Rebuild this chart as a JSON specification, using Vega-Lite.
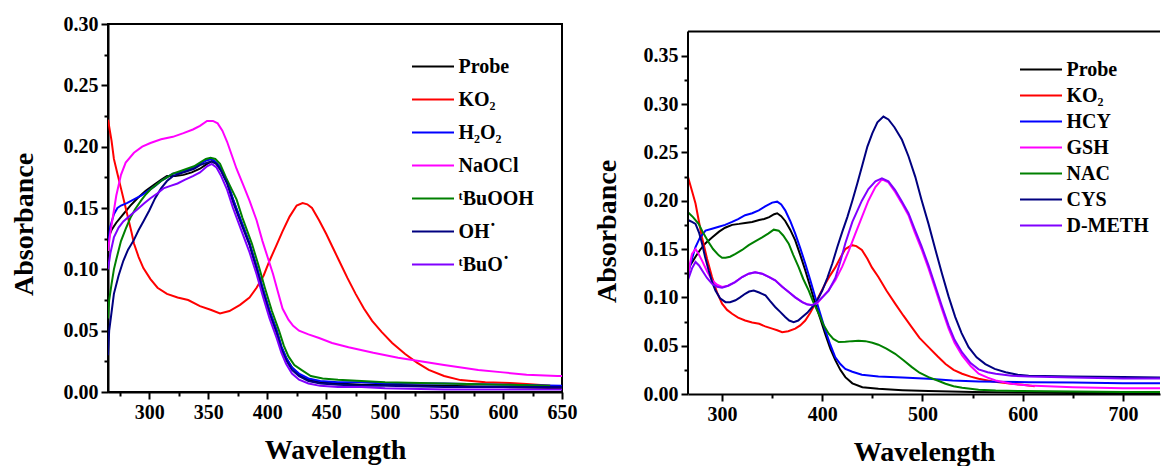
{
  "$schema": "https://vega.github.io/schema/vega-lite/v6.json",
  "background": "white",
  "padding": {"left": 9, "top": 13, "right": 0, "bottom": 0},
  "spacing": 15,
  "config": {
    "font": "Liberation Serif",
    "view": {"stroke": "black", "strokeWidth": 2},
    "axis": {
      "grid": false,
      "domainColor": "black", "domainWidth": 2,
      "tickColor": "black", "tickWidth": 2, "tickSize": 7,
      "labelFont": "Liberation Serif", "labelFontWeight": "bold", "labelFontSize": 20, "labelColor": "black",
      "labelPadding": 3, "labelFlush": false, "labelOverlap": false,
      "titleFont": "Liberation Serif", "titleFontWeight": "bold", "titleFontSize": 28, "titleColor": "black"
    },
    "legend": {
      "orient": "none", "title": null,
      "symbolType": "M-2,0H2", "symbolStrokeWidth": 2, "symbolSize": 441, "symbolOffset": 10.5,
      "symbolFillColor": "transparent",
      "labelFont": "Liberation Serif", "labelFontWeight": "bold", "labelFontSize": 20, "labelColor": "black",
      "labelOffset": 14
    }
  },
  "datasets": {
    "left": [
      {"s":"Probe","w":265,"a":0.125},{"s":"Probe","w":268,"a":0.132},{"s":"Probe","w":272,"a":0.138},{"s":"Probe","w":278,"a":0.145},{"s":"Probe","w":284,"a":0.152},{"s":"Probe","w":290,"a":0.158},{"s":"Probe","w":297,"a":0.164},{"s":"Probe","w":304,"a":0.169},{"s":"Probe","w":310,"a":0.173},{"s":"Probe","w":315,"a":0.176},{"s":"Probe","w":322,"a":0.176},{"s":"Probe","w":329,"a":0.177},{"s":"Probe","w":336,"a":0.179},{"s":"Probe","w":343,"a":0.182},{"s":"Probe","w":349,"a":0.186},{"s":"Probe","w":353,"a":0.188},{"s":"Probe","w":357,"a":0.186},{"s":"Probe","w":361,"a":0.181},{"s":"Probe","w":366,"a":0.171},{"s":"Probe","w":371,"a":0.157},{"s":"Probe","w":378,"a":0.139},{"s":"Probe","w":385,"a":0.121},{"s":"Probe","w":391,"a":0.102},{"s":"Probe","w":396,"a":0.085},{"s":"Probe","w":402,"a":0.066},{"s":"Probe","w":408,"a":0.05},{"s":"Probe","w":412,"a":0.037},{"s":"Probe","w":416,"a":0.028},{"s":"Probe","w":421,"a":0.02},{"s":"Probe","w":427,"a":0.014},{"s":"Probe","w":435,"a":0.01},{"s":"Probe","w":445,"a":0.008},{"s":"Probe","w":460,"a":0.007},{"s":"Probe","w":480,"a":0.006},{"s":"Probe","w":500,"a":0.006},{"s":"Probe","w":550,"a":0.005},{"s":"Probe","w":600,"a":0.004},{"s":"Probe","w":650,"a":0.003},

      {"s":"KO2","w":265,"a":0.222},{"s":"KO2","w":268,"a":0.205},{"s":"KO2","w":270,"a":0.19},{"s":"KO2","w":273,"a":0.178},{"s":"KO2","w":276,"a":0.166},{"s":"KO2","w":279,"a":0.154},{"s":"KO2","w":282,"a":0.142},{"s":"KO2","w":285,"a":0.13},{"s":"KO2","w":287,"a":0.121},{"s":"KO2","w":291,"a":0.11},{"s":"KO2","w":295,"a":0.101},{"s":"KO2","w":301,"a":0.092},{"s":"KO2","w":307,"a":0.085},{"s":"KO2","w":315,"a":0.08},{"s":"KO2","w":324,"a":0.077},{"s":"KO2","w":333,"a":0.075},{"s":"KO2","w":343,"a":0.07},{"s":"KO2","w":352,"a":0.067},{"s":"KO2","w":360,"a":0.064},{"s":"KO2","w":368,"a":0.066},{"s":"KO2","w":377,"a":0.071},{"s":"KO2","w":385,"a":0.077},{"s":"KO2","w":391,"a":0.085},{"s":"KO2","w":397,"a":0.095},{"s":"KO2","w":402,"a":0.107},{"s":"KO2","w":408,"a":0.12},{"s":"KO2","w":413,"a":0.131},{"s":"KO2","w":419,"a":0.143},{"s":"KO2","w":425,"a":0.152},{"s":"KO2","w":430,"a":0.154},{"s":"KO2","w":434,"a":0.153},{"s":"KO2","w":438,"a":0.15},{"s":"KO2","w":444,"a":0.14},{"s":"KO2","w":450,"a":0.129},{"s":"KO2","w":456,"a":0.117},{"s":"KO2","w":461,"a":0.107},{"s":"KO2","w":468,"a":0.093},{"s":"KO2","w":475,"a":0.08},{"s":"KO2","w":482,"a":0.068},{"s":"KO2","w":489,"a":0.058},{"s":"KO2","w":497,"a":0.049},{"s":"KO2","w":506,"a":0.04},{"s":"KO2","w":517,"a":0.031},{"s":"KO2","w":527,"a":0.024},{"s":"KO2","w":537,"a":0.018},{"s":"KO2","w":550,"a":0.013},{"s":"KO2","w":564,"a":0.0097},{"s":"KO2","w":585,"a":0.008},{"s":"KO2","w":606,"a":0.0073},{"s":"KO2","w":620,"a":0.0065},{"s":"KO2","w":632,"a":0.0057},{"s":"KO2","w":640,"a":0.005},

      {"s":"H2O2","w":265,"a":0.118},{"s":"H2O2","w":267,"a":0.135},{"s":"H2O2","w":270,"a":0.145},{"s":"H2O2","w":273,"a":0.15},{"s":"H2O2","w":276,"a":0.152},{"s":"H2O2","w":281,"a":0.154},{"s":"H2O2","w":287,"a":0.157},{"s":"H2O2","w":293,"a":0.16},{"s":"H2O2","w":299,"a":0.164},{"s":"H2O2","w":305,"a":0.168},{"s":"H2O2","w":310,"a":0.172},{"s":"H2O2","w":315,"a":0.175},{"s":"H2O2","w":320,"a":0.178},{"s":"H2O2","w":326,"a":0.179},{"s":"H2O2","w":332,"a":0.181},{"s":"H2O2","w":338,"a":0.183},{"s":"H2O2","w":343,"a":0.186},{"s":"H2O2","w":349,"a":0.189},{"s":"H2O2","w":353,"a":0.19},{"s":"H2O2","w":357,"a":0.187},{"s":"H2O2","w":361,"a":0.182},{"s":"H2O2","w":366,"a":0.172},{"s":"H2O2","w":371,"a":0.157},{"s":"H2O2","w":378,"a":0.139},{"s":"H2O2","w":385,"a":0.121},{"s":"H2O2","w":391,"a":0.102},{"s":"H2O2","w":396,"a":0.085},{"s":"H2O2","w":402,"a":0.066},{"s":"H2O2","w":408,"a":0.05},{"s":"H2O2","w":412,"a":0.037},{"s":"H2O2","w":416,"a":0.028},{"s":"H2O2","w":421,"a":0.02},{"s":"H2O2","w":427,"a":0.015},{"s":"H2O2","w":435,"a":0.011},{"s":"H2O2","w":445,"a":0.009},{"s":"H2O2","w":460,"a":0.008},{"s":"H2O2","w":480,"a":0.008},{"s":"H2O2","w":500,"a":0.007},{"s":"H2O2","w":550,"a":0.007},{"s":"H2O2","w":600,"a":0.006},{"s":"H2O2","w":650,"a":0.005},

      {"s":"NaOCl","w":265,"a":0.115},{"s":"NaOCl","w":267,"a":0.13},{"s":"NaOCl","w":269,"a":0.142},{"s":"NaOCl","w":272,"a":0.16},{"s":"NaOCl","w":276,"a":0.177},{"s":"NaOCl","w":280,"a":0.187},{"s":"NaOCl","w":287,"a":0.195},{"s":"NaOCl","w":294,"a":0.2},{"s":"NaOCl","w":301,"a":0.203},{"s":"NaOCl","w":310,"a":0.206},{"s":"NaOCl","w":320,"a":0.208},{"s":"NaOCl","w":329,"a":0.211},{"s":"NaOCl","w":337,"a":0.214},{"s":"NaOCl","w":343,"a":0.217},{"s":"NaOCl","w":349,"a":0.221},{"s":"NaOCl","w":354,"a":0.221},{"s":"NaOCl","w":358,"a":0.219},{"s":"NaOCl","w":362,"a":0.213},{"s":"NaOCl","w":366,"a":0.204},{"s":"NaOCl","w":370,"a":0.193},{"s":"NaOCl","w":374,"a":0.182},{"s":"NaOCl","w":380,"a":0.168},{"s":"NaOCl","w":385,"a":0.156},{"s":"NaOCl","w":391,"a":0.14},{"s":"NaOCl","w":396,"a":0.123},{"s":"NaOCl","w":401,"a":0.108},{"s":"NaOCl","w":405,"a":0.096},{"s":"NaOCl","w":409,"a":0.082},{"s":"NaOCl","w":413,"a":0.068},{"s":"NaOCl","w":418,"a":0.059},{"s":"NaOCl","w":422,"a":0.054},{"s":"NaOCl","w":427,"a":0.05},{"s":"NaOCl","w":435,"a":0.047},{"s":"NaOCl","w":444,"a":0.044},{"s":"NaOCl","w":455,"a":0.04},{"s":"NaOCl","w":469,"a":0.0365},{"s":"NaOCl","w":490,"a":0.032},{"s":"NaOCl","w":511,"a":0.028},{"s":"NaOCl","w":530,"a":0.025},{"s":"NaOCl","w":550,"a":0.022},{"s":"NaOCl","w":579,"a":0.018},{"s":"NaOCl","w":600,"a":0.016},{"s":"NaOCl","w":620,"a":0.014},{"s":"NaOCl","w":646,"a":0.013},{"s":"NaOCl","w":650,"a":0.013},

      {"s":"tBuOOH","w":265,"a":0.06},{"s":"tBuOOH","w":266,"a":0.075},{"s":"tBuOOH","w":268,"a":0.088},{"s":"tBuOOH","w":270,"a":0.1},{"s":"tBuOOH","w":272,"a":0.108},{"s":"tBuOOH","w":276,"a":0.123},{"s":"tBuOOH","w":280,"a":0.133},{"s":"tBuOOH","w":284,"a":0.142},{"s":"tBuOOH","w":288,"a":0.149},{"s":"tBuOOH","w":293,"a":0.156},{"s":"tBuOOH","w":297,"a":0.161},{"s":"tBuOOH","w":301,"a":0.165},{"s":"tBuOOH","w":306,"a":0.169},{"s":"tBuOOH","w":310,"a":0.172},{"s":"tBuOOH","w":315,"a":0.175},{"s":"tBuOOH","w":320,"a":0.178},{"s":"tBuOOH","w":326,"a":0.18},{"s":"tBuOOH","w":332,"a":0.182},{"s":"tBuOOH","w":338,"a":0.184},{"s":"tBuOOH","w":343,"a":0.187},{"s":"tBuOOH","w":348,"a":0.19},{"s":"tBuOOH","w":352,"a":0.191},{"s":"tBuOOH","w":356,"a":0.19},{"s":"tBuOOH","w":360,"a":0.186},{"s":"tBuOOH","w":365,"a":0.175},{"s":"tBuOOH","w":370,"a":0.165},{"s":"tBuOOH","w":374,"a":0.157},{"s":"tBuOOH","w":379,"a":0.142},{"s":"tBuOOH","w":387,"a":0.121},{"s":"tBuOOH","w":393,"a":0.102},{"s":"tBuOOH","w":398,"a":0.085},{"s":"tBuOOH","w":404,"a":0.066},{"s":"tBuOOH","w":410,"a":0.05},{"s":"tBuOOH","w":414,"a":0.038},{"s":"tBuOOH","w":418,"a":0.029},{"s":"tBuOOH","w":423,"a":0.022},{"s":"tBuOOH","w":429,"a":0.018},{"s":"tBuOOH","w":437,"a":0.013},{"s":"tBuOOH","w":447,"a":0.011},{"s":"tBuOOH","w":460,"a":0.01},{"s":"tBuOOH","w":480,"a":0.009},{"s":"tBuOOH","w":500,"a":0.008},{"s":"tBuOOH","w":550,"a":0.007},{"s":"tBuOOH","w":600,"a":0.006},{"s":"tBuOOH","w":640,"a":0.005},

      {"s":"OH","w":265,"a":0.03},{"s":"OH","w":266,"a":0.05},{"s":"OH","w":268,"a":0.065},{"s":"OH","w":270,"a":0.08},{"s":"OH","w":274,"a":0.095},{"s":"OH","w":278,"a":0.107},{"s":"OH","w":282,"a":0.116},{"s":"OH","w":287,"a":0.124},{"s":"OH","w":291,"a":0.132},{"s":"OH","w":295,"a":0.139},{"s":"OH","w":300,"a":0.148},{"s":"OH","w":305,"a":0.158},{"s":"OH","w":310,"a":0.166},{"s":"OH","w":315,"a":0.172},{"s":"OH","w":320,"a":0.176},{"s":"OH","w":326,"a":0.178},{"s":"OH","w":332,"a":0.18},{"s":"OH","w":338,"a":0.182},{"s":"OH","w":343,"a":0.185},{"s":"OH","w":349,"a":0.187},{"s":"OH","w":353,"a":0.188},{"s":"OH","w":357,"a":0.186},{"s":"OH","w":361,"a":0.18},{"s":"OH","w":366,"a":0.17},{"s":"OH","w":371,"a":0.155},{"s":"OH","w":378,"a":0.137},{"s":"OH","w":385,"a":0.12},{"s":"OH","w":391,"a":0.1},{"s":"OH","w":396,"a":0.083},{"s":"OH","w":402,"a":0.064},{"s":"OH","w":408,"a":0.048},{"s":"OH","w":412,"a":0.035},{"s":"OH","w":416,"a":0.026},{"s":"OH","w":421,"a":0.018},{"s":"OH","w":427,"a":0.013},{"s":"OH","w":435,"a":0.009},{"s":"OH","w":445,"a":0.007},{"s":"OH","w":460,"a":0.006},{"s":"OH","w":480,"a":0.005},{"s":"OH","w":500,"a":0.005},{"s":"OH","w":550,"a":0.004},{"s":"OH","w":600,"a":0.004},{"s":"OH","w":650,"a":0.004},

      {"s":"tBuO","w":265,"a":0.1},{"s":"tBuO","w":267,"a":0.113},{"s":"tBuO","w":270,"a":0.126},{"s":"tBuO","w":274,"a":0.134},{"s":"tBuO","w":278,"a":0.139},{"s":"tBuO","w":284,"a":0.144},{"s":"tBuO","w":290,"a":0.149},{"s":"tBuO","w":296,"a":0.154},{"s":"tBuO","w":301,"a":0.158},{"s":"tBuO","w":307,"a":0.162},{"s":"tBuO","w":312,"a":0.166},{"s":"tBuO","w":318,"a":0.168},{"s":"tBuO","w":324,"a":0.17},{"s":"tBuO","w":330,"a":0.173},{"s":"tBuO","w":337,"a":0.176},{"s":"tBuO","w":343,"a":0.179},{"s":"tBuO","w":349,"a":0.184},{"s":"tBuO","w":353,"a":0.186},{"s":"tBuO","w":357,"a":0.183},{"s":"tBuO","w":361,"a":0.176},{"s":"tBuO","w":366,"a":0.165},{"s":"tBuO","w":371,"a":0.15},{"s":"tBuO","w":378,"a":0.132},{"s":"tBuO","w":385,"a":0.114},{"s":"tBuO","w":391,"a":0.096},{"s":"tBuO","w":396,"a":0.079},{"s":"tBuO","w":402,"a":0.06},{"s":"tBuO","w":408,"a":0.044},{"s":"tBuO","w":412,"a":0.032},{"s":"tBuO","w":416,"a":0.023},{"s":"tBuO","w":421,"a":0.015},{"s":"tBuO","w":427,"a":0.01},{"s":"tBuO","w":435,"a":0.007},{"s":"tBuO","w":445,"a":0.005},{"s":"tBuO","w":460,"a":0.004},{"s":"tBuO","w":480,"a":0.004},{"s":"tBuO","w":500,"a":0.003},{"s":"tBuO","w":550,"a":0.002},{"s":"tBuO","w":600,"a":0.002},{"s":"tBuO","w":650,"a":0.002}
    ],
    "right": [
      {"s":"Probe","w":266,"a":0.13},{"s":"Probe","w":270,"a":0.136},{"s":"Probe","w":273.5,"a":0.142},{"s":"Probe","w":278,"a":0.149},{"s":"Probe","w":283.5,"a":0.156},{"s":"Probe","w":290,"a":0.162},{"s":"Probe","w":297,"a":0.168},{"s":"Probe","w":303,"a":0.172},{"s":"Probe","w":310,"a":0.175},{"s":"Probe","w":317,"a":0.176},{"s":"Probe","w":323,"a":0.177},{"s":"Probe","w":330,"a":0.178},{"s":"Probe","w":337,"a":0.18},{"s":"Probe","w":342,"a":0.181},{"s":"Probe","w":347,"a":0.183},{"s":"Probe","w":352,"a":0.186},{"s":"Probe","w":355,"a":0.187},{"s":"Probe","w":359,"a":0.184},{"s":"Probe","w":363,"a":0.179},{"s":"Probe","w":368,"a":0.17},{"s":"Probe","w":373,"a":0.159},{"s":"Probe","w":378,"a":0.144},{"s":"Probe","w":383,"a":0.128},{"s":"Probe","w":388,"a":0.111},{"s":"Probe","w":393,"a":0.0935},{"s":"Probe","w":398,"a":0.078},{"s":"Probe","w":403,"a":0.062},{"s":"Probe","w":408,"a":0.047},{"s":"Probe","w":413,"a":0.035},{"s":"Probe","w":418,"a":0.025},{"s":"Probe","w":423,"a":0.0174},{"s":"Probe","w":430,"a":0.011},{"s":"Probe","w":440,"a":0.007},{"s":"Probe","w":456,"a":0.0054},{"s":"Probe","w":480,"a":0.004},{"s":"Probe","w":506,"a":0.003},{"s":"Probe","w":550,"a":0.002},{"s":"Probe","w":600,"a":0.0015},{"s":"Probe","w":650,"a":0.001},{"s":"Probe","w":737,"a":0.001},

      {"s":"KO2","w":266,"a":0.2246},{"s":"KO2","w":270,"a":0.21},{"s":"KO2","w":273.5,"a":0.197},{"s":"KO2","w":277,"a":0.178},{"s":"KO2","w":280,"a":0.162},{"s":"KO2","w":285,"a":0.14},{"s":"KO2","w":290,"a":0.121},{"s":"KO2","w":295,"a":0.105},{"s":"KO2","w":300,"a":0.0935},{"s":"KO2","w":305,"a":0.087},{"s":"KO2","w":310,"a":0.083},{"s":"KO2","w":316,"a":0.079},{"s":"KO2","w":323,"a":0.076},{"s":"KO2","w":330,"a":0.074},{"s":"KO2","w":337,"a":0.0727},{"s":"KO2","w":343,"a":0.07},{"s":"KO2","w":350,"a":0.0676},{"s":"KO2","w":355,"a":0.066},{"s":"KO2","w":360,"a":0.064},{"s":"KO2","w":366,"a":0.065},{"s":"KO2","w":373,"a":0.0676},{"s":"KO2","w":378,"a":0.071},{"s":"KO2","w":383,"a":0.076},{"s":"KO2","w":388,"a":0.084},{"s":"KO2","w":393,"a":0.0935},{"s":"KO2","w":398,"a":0.104},{"s":"KO2","w":403,"a":0.114},{"s":"KO2","w":408,"a":0.123},{"s":"KO2","w":413,"a":0.131},{"s":"KO2","w":418,"a":0.141},{"s":"KO2","w":423,"a":0.15},{"s":"KO2","w":429.6,"a":0.154},{"s":"KO2","w":434,"a":0.153},{"s":"KO2","w":439.5,"a":0.149},{"s":"KO2","w":445,"a":0.14},{"s":"KO2","w":449.5,"a":0.131},{"s":"KO2","w":456,"a":0.121},{"s":"KO2","w":464,"a":0.107},{"s":"KO2","w":472.7,"a":0.0935},{"s":"KO2","w":481,"a":0.081},{"s":"KO2","w":489.4,"a":0.069},{"s":"KO2","w":497,"a":0.058},{"s":"KO2","w":506,"a":0.0485},{"s":"KO2","w":515,"a":0.039},{"s":"KO2","w":523,"a":0.031},{"s":"KO2","w":531,"a":0.025},{"s":"KO2","w":539.5,"a":0.021},{"s":"KO2","w":548,"a":0.018},{"s":"KO2","w":556,"a":0.0157},{"s":"KO2","w":570,"a":0.013},{"s":"KO2","w":589,"a":0.0106},{"s":"KO2","w":600,"a":0.0095},{"s":"KO2","w":612,"a":0.008},

      {"s":"HCY","w":266,"a":0.124},{"s":"HCY","w":270,"a":0.14},{"s":"HCY","w":273.5,"a":0.152},{"s":"HCY","w":278,"a":0.162},{"s":"HCY","w":283.5,"a":0.169},{"s":"HCY","w":290,"a":0.171},{"s":"HCY","w":296.7,"a":0.173},{"s":"HCY","w":303,"a":0.175},{"s":"HCY","w":310,"a":0.178},{"s":"HCY","w":316,"a":0.181},{"s":"HCY","w":323,"a":0.185},{"s":"HCY","w":330,"a":0.187},{"s":"HCY","w":336.6,"a":0.19},{"s":"HCY","w":343,"a":0.194},{"s":"HCY","w":350,"a":0.198},{"s":"HCY","w":355,"a":0.199},{"s":"HCY","w":359,"a":0.196},{"s":"HCY","w":363,"a":0.19},{"s":"HCY","w":368,"a":0.179},{"s":"HCY","w":373,"a":0.166},{"s":"HCY","w":378,"a":0.151},{"s":"HCY","w":383,"a":0.135},{"s":"HCY","w":388,"a":0.118},{"s":"HCY","w":393,"a":0.1},{"s":"HCY","w":398,"a":0.083},{"s":"HCY","w":403,"a":0.066},{"s":"HCY","w":408,"a":0.051},{"s":"HCY","w":413,"a":0.038},{"s":"HCY","w":418,"a":0.031},{"s":"HCY","w":423,"a":0.026},{"s":"HCY","w":430,"a":0.023},{"s":"HCY","w":439.5,"a":0.02},{"s":"HCY","w":456,"a":0.018},{"s":"HCY","w":480,"a":0.017},{"s":"HCY","w":506,"a":0.0157},{"s":"HCY","w":530,"a":0.014},{"s":"HCY","w":556,"a":0.013},{"s":"HCY","w":606,"a":0.0122},{"s":"HCY","w":650,"a":0.012},{"s":"HCY","w":700,"a":0.011},{"s":"HCY","w":737,"a":0.011},

      {"s":"GSH","w":266,"a":0.121},{"s":"GSH","w":268,"a":0.135},{"s":"GSH","w":270,"a":0.145},{"s":"GSH","w":273.5,"a":0.15},{"s":"GSH","w":276,"a":0.146},{"s":"GSH","w":280,"a":0.138},{"s":"GSH","w":285,"a":0.127},{"s":"GSH","w":290,"a":0.1176},{"s":"GSH","w":295,"a":0.113},{"s":"GSH","w":300,"a":0.1107},{"s":"GSH","w":306,"a":0.112},{"s":"GSH","w":313,"a":0.1158},{"s":"GSH","w":320,"a":0.121},{"s":"GSH","w":326.6,"a":0.1245},{"s":"GSH","w":333,"a":0.126},{"s":"GSH","w":340,"a":0.1245},{"s":"GSH","w":347,"a":0.121},{"s":"GSH","w":353,"a":0.1176},{"s":"GSH","w":360,"a":0.111},{"s":"GSH","w":366.5,"a":0.1055},{"s":"GSH","w":373,"a":0.1},{"s":"GSH","w":380,"a":0.095},{"s":"GSH","w":385,"a":0.093},{"s":"GSH","w":390,"a":0.0917},{"s":"GSH","w":395,"a":0.094},{"s":"GSH","w":400,"a":0.1},{"s":"GSH","w":406,"a":0.107},{"s":"GSH","w":413,"a":0.1176},{"s":"GSH","w":420,"a":0.132},{"s":"GSH","w":426.6,"a":0.1487},{"s":"GSH","w":433,"a":0.166},{"s":"GSH","w":439.5,"a":0.183},{"s":"GSH","w":446,"a":0.2},{"s":"GSH","w":453,"a":0.214},{"s":"GSH","w":459.5,"a":0.222},{"s":"GSH","w":466,"a":0.219},{"s":"GSH","w":472.7,"a":0.209},{"s":"GSH","w":479,"a":0.198},{"s":"GSH","w":486,"a":0.185},{"s":"GSH","w":492,"a":0.168},{"s":"GSH","w":499,"a":0.15},{"s":"GSH","w":506,"a":0.13},{"s":"GSH","w":512.7,"a":0.109},{"s":"GSH","w":519,"a":0.089},{"s":"GSH","w":526,"a":0.068},{"s":"GSH","w":532,"a":0.053},{"s":"GSH","w":539.5,"a":0.04},{"s":"GSH","w":548,"a":0.029},{"s":"GSH","w":556,"a":0.021},{"s":"GSH","w":565,"a":0.017},{"s":"GSH","w":573,"a":0.014},{"s":"GSH","w":589,"a":0.0106},{"s":"GSH","w":606,"a":0.0088},{"s":"GSH","w":650,"a":0.007},{"s":"GSH","w":700,"a":0.006},{"s":"GSH","w":737,"a":0.006},

      {"s":"NAC","w":266,"a":0.188},{"s":"NAC","w":271,"a":0.183},{"s":"NAC","w":276.6,"a":0.176},{"s":"NAC","w":281,"a":0.167},{"s":"NAC","w":286.6,"a":0.157},{"s":"NAC","w":291,"a":0.15},{"s":"NAC","w":296.7,"a":0.1435},{"s":"NAC","w":300,"a":0.141},{"s":"NAC","w":303.4,"a":0.141},{"s":"NAC","w":308,"a":0.142},{"s":"NAC","w":313.4,"a":0.145},{"s":"NAC","w":320,"a":0.149},{"s":"NAC","w":326.6,"a":0.154},{"s":"NAC","w":333,"a":0.158},{"s":"NAC","w":340,"a":0.162},{"s":"NAC","w":346,"a":0.166},{"s":"NAC","w":351.6,"a":0.17},{"s":"NAC","w":356.5,"a":0.169},{"s":"NAC","w":361,"a":0.164},{"s":"NAC","w":366.5,"a":0.1556},{"s":"NAC","w":371,"a":0.144},{"s":"NAC","w":376.5,"a":0.131},{"s":"NAC","w":381,"a":0.119},{"s":"NAC","w":386.5,"a":0.107},{"s":"NAC","w":391,"a":0.095},{"s":"NAC","w":396.5,"a":0.083},{"s":"NAC","w":401,"a":0.072},{"s":"NAC","w":406.4,"a":0.0624},{"s":"NAC","w":411,"a":0.057},{"s":"NAC","w":416.4,"a":0.0537},{"s":"NAC","w":423,"a":0.054},{"s":"NAC","w":429.7,"a":0.0547},{"s":"NAC","w":436,"a":0.055},{"s":"NAC","w":443,"a":0.0547},{"s":"NAC","w":450,"a":0.053},{"s":"NAC","w":456,"a":0.051},{"s":"NAC","w":464,"a":0.047},{"s":"NAC","w":472.7,"a":0.0416},{"s":"NAC","w":481,"a":0.035},{"s":"NAC","w":489.4,"a":0.0278},{"s":"NAC","w":497,"a":0.022},{"s":"NAC","w":506,"a":0.0174},{"s":"NAC","w":515,"a":0.014},{"s":"NAC","w":523,"a":0.0106},{"s":"NAC","w":531,"a":0.008},{"s":"NAC","w":539.5,"a":0.0064},{"s":"NAC","w":556,"a":0.0045},{"s":"NAC","w":573,"a":0.0036},{"s":"NAC","w":600,"a":0.003},{"s":"NAC","w":650,"a":0.0025},{"s":"NAC","w":700,"a":0.002},{"s":"NAC","w":737,"a":0.002},

      {"s":"CYS","w":266,"a":0.18},{"s":"CYS","w":270,"a":0.178},{"s":"CYS","w":273.5,"a":0.176},{"s":"CYS","w":277,"a":0.167},{"s":"CYS","w":280,"a":0.1556},{"s":"CYS","w":283,"a":0.142},{"s":"CYS","w":286.6,"a":0.128},{"s":"CYS","w":290,"a":0.116},{"s":"CYS","w":293.4,"a":0.107},{"s":"CYS","w":298,"a":0.099},{"s":"CYS","w":303.4,"a":0.095},{"s":"CYS","w":308,"a":0.095},{"s":"CYS","w":313.4,"a":0.097},{"s":"CYS","w":318,"a":0.1},{"s":"CYS","w":323,"a":0.1037},{"s":"CYS","w":327,"a":0.106},{"s":"CYS","w":331.6,"a":0.107},{"s":"CYS","w":337,"a":0.105},{"s":"CYS","w":343.3,"a":0.102},{"s":"CYS","w":348,"a":0.096},{"s":"CYS","w":353,"a":0.09},{"s":"CYS","w":358,"a":0.085},{"s":"CYS","w":363,"a":0.0796},{"s":"CYS","w":367,"a":0.076},{"s":"CYS","w":371.5,"a":0.0744},{"s":"CYS","w":376,"a":0.076},{"s":"CYS","w":380,"a":0.0796},{"s":"CYS","w":385,"a":0.084},{"s":"CYS","w":390,"a":0.09},{"s":"CYS","w":395,"a":0.097},{"s":"CYS","w":400,"a":0.107},{"s":"CYS","w":405,"a":0.12},{"s":"CYS","w":410,"a":0.135},{"s":"CYS","w":415,"a":0.152},{"s":"CYS","w":420,"a":0.168},{"s":"CYS","w":425,"a":0.183},{"s":"CYS","w":430,"a":0.2},{"s":"CYS","w":435,"a":0.218},{"s":"CYS","w":440,"a":0.237},{"s":"CYS","w":445,"a":0.256},{"s":"CYS","w":450,"a":0.27},{"s":"CYS","w":455,"a":0.281},{"s":"CYS","w":461,"a":0.287},{"s":"CYS","w":466,"a":0.284},{"s":"CYS","w":472,"a":0.276},{"s":"CYS","w":479.5,"a":0.263},{"s":"CYS","w":486,"a":0.246},{"s":"CYS","w":492.8,"a":0.2247},{"s":"CYS","w":499,"a":0.201},{"s":"CYS","w":506,"a":0.176},{"s":"CYS","w":512.7,"a":0.15},{"s":"CYS","w":519.4,"a":0.1246},{"s":"CYS","w":526,"a":0.101},{"s":"CYS","w":532.7,"a":0.0796},{"s":"CYS","w":539,"a":0.063},{"s":"CYS","w":546,"a":0.0485},{"s":"CYS","w":554,"a":0.038},{"s":"CYS","w":562.7,"a":0.031},{"s":"CYS","w":572,"a":0.026},{"s":"CYS","w":583,"a":0.0226},{"s":"CYS","w":595,"a":0.02},{"s":"CYS","w":606,"a":0.019},{"s":"CYS","w":650,"a":0.018},{"s":"CYS","w":700,"a":0.0175},{"s":"CYS","w":737,"a":0.017},

      {"s":"D-METH","w":266,"a":0.118},{"s":"D-METH","w":270,"a":0.13},{"s":"D-METH","w":273.5,"a":0.1366},{"s":"D-METH","w":277,"a":0.133},{"s":"D-METH","w":280,"a":0.128},{"s":"D-METH","w":285,"a":0.12},{"s":"D-METH","w":290,"a":0.114},{"s":"D-METH","w":295,"a":0.111},{"s":"D-METH","w":300,"a":0.11},{"s":"D-METH","w":306,"a":0.112},{"s":"D-METH","w":313,"a":0.1158},{"s":"D-METH","w":320,"a":0.121},{"s":"D-METH","w":326.6,"a":0.1245},{"s":"D-METH","w":333,"a":0.126},{"s":"D-METH","w":340,"a":0.1245},{"s":"D-METH","w":347,"a":0.121},{"s":"D-METH","w":353,"a":0.1176},{"s":"D-METH","w":360,"a":0.111},{"s":"D-METH","w":366.5,"a":0.1055},{"s":"D-METH","w":373,"a":0.1},{"s":"D-METH","w":380,"a":0.095},{"s":"D-METH","w":385,"a":0.0925},{"s":"D-METH","w":390,"a":0.092},{"s":"D-METH","w":395,"a":0.095},{"s":"D-METH","w":400,"a":0.1},{"s":"D-METH","w":406.4,"a":0.107},{"s":"D-METH","w":413,"a":0.12},{"s":"D-METH","w":418,"a":0.137},{"s":"D-METH","w":423,"a":0.156},{"s":"D-METH","w":430,"a":0.178},{"s":"D-METH","w":439.5,"a":0.2},{"s":"D-METH","w":446,"a":0.212},{"s":"D-METH","w":453,"a":0.22},{"s":"D-METH","w":459.5,"a":0.223},{"s":"D-METH","w":466,"a":0.22},{"s":"D-METH","w":472.7,"a":0.211},{"s":"D-METH","w":479,"a":0.2},{"s":"D-METH","w":486,"a":0.187},{"s":"D-METH","w":492,"a":0.171},{"s":"D-METH","w":499,"a":0.153},{"s":"D-METH","w":506,"a":0.133},{"s":"D-METH","w":512.7,"a":0.112},{"s":"D-METH","w":519,"a":0.092},{"s":"D-METH","w":526,"a":0.071},{"s":"D-METH","w":532,"a":0.056},{"s":"D-METH","w":539.5,"a":0.043},{"s":"D-METH","w":548,"a":0.032},{"s":"D-METH","w":556,"a":0.0255},{"s":"D-METH","w":565,"a":0.0225},{"s":"D-METH","w":573,"a":0.021},{"s":"D-METH","w":589,"a":0.019},{"s":"D-METH","w":606,"a":0.018},{"s":"D-METH","w":650,"a":0.017},{"s":"D-METH","w":700,"a":0.016},{"s":"D-METH","w":737,"a":0.016}
    ]
  },
  "hconcat": [
    {
      "width": 454,
      "height": 368,
      "layer": [
        {
          "data": {"name": "left"},
          "mark": {"type": "line", "strokeWidth": 2, "clip": true},
          "encoding": {
            "x": {
              "field": "w", "type": "quantitative",
              "scale": {"domain": [265, 650], "nice": false, "zero": false},
              "axis": {"title": "Wavelength", "titlePadding": 14, "values": [300, 350, 400, 450, 500, 550, 600, 650]}
            },
            "y": {
              "field": "a", "type": "quantitative",
              "scale": {"domain": [0, 0.3], "nice": false},
              "axis": {"title": "Absorbance", "titlePadding": 25, "titleY": 200, "format": ".2f", "values": [0, 0.05, 0.1, 0.15, 0.2, 0.25, 0.3]}
            },
            "color": {
              "field": "s", "type": "nominal",
              "scale": {
                "domain": ["Probe", "KO2", "H2O2", "NaOCl", "tBuOOH", "OH", "tBuO"],
                "range": ["#000000", "#ff0000", "#0000ff", "#ff00ff", "#008000", "#000080", "#8000ff"]
              },
              "legend": {
                "legendX": 303, "legendY": 31, "rowPadding": 11,
                "labelExpr": "{'KO2': 'KO₂', 'H2O2': 'H₂O₂', 'tBuOOH': 'ᵗBuOOH', 'OH': 'OH˙', 'tBuO': 'ᵗBuO˙'}[datum.label] || datum.label"
              }
            }
          }
        },
        {
          "data": {"values": [{}]},
          "mark": {"type": "point", "opacity": 0},
          "encoding": {
            "x": {"datum": 265, "type": "quantitative",
                  "axis": {"orient": "bottom", "title": null, "labels": false, "domain": false, "tickSize": 4,
                           "values": [275, 325, 375, 425, 475, 525, 575, 625]}},
            "y": {"datum": 0, "type": "quantitative",
                  "axis": {"orient": "left", "title": null, "labels": false, "domain": false, "tickSize": 4,
                           "values": [0.025, 0.075, 0.125, 0.175, 0.225, 0.275]}}
          }
        }
      ],
      "resolve": {"axis": {"x": "independent", "y": "independent"}}
    },
    {
      "width": 472,
      "height": 370,
      "view": {"stroke": null},
      "layer": [
        {
          "data": {"name": "right"},
          "mark": {"type": "line", "strokeWidth": 2, "clip": true},
          "encoding": {
            "x": {
              "field": "w", "type": "quantitative",
              "scale": {"domain": [266, 737], "nice": false, "zero": false},
              "axis": {"title": "Wavelength", "titlePadding": 14, "values": [300, 400, 500, 600, 700]}
            },
            "y": {
              "field": "a", "type": "quantitative",
              "scale": {"domain": [0, 0.3828], "nice": false},
              "axis": {"title": "Absorbance", "titlePadding": 22, "titleY": 207, "format": ".2f", "domain": false,
                       "values": [0, 0.05, 0.1, 0.15, 0.2, 0.25, 0.3, 0.35]}
            },
            "color": {
              "field": "s", "type": "nominal",
              "scale": {
                "domain": ["Probe", "KO2", "HCY", "GSH", "NAC", "CYS", "D-METH"],
                "range": ["#000000", "#ff0000", "#0000ff", "#ff00ff", "#008000", "#000080", "#8000ff"]
              },
              "legend": {
                "legendX": 331, "legendY": 34, "rowPadding": 4,
                "labelExpr": "datum.label === 'KO2' ? 'KO₂' : datum.label"
              }
            }
          }
        },
        {
          "data": {"values": [{}]},
          "mark": {"type": "point", "opacity": 0},
          "encoding": {
            "x": {"datum": 300, "type": "quantitative",
                  "axis": {"orient": "bottom", "title": null, "labels": false, "domain": false, "tickSize": 4,
                           "values": [350, 450, 550, 650]}},
            "y": {"datum": 0, "type": "quantitative",
                  "axis": {"orient": "left", "title": null, "labels": false, "domain": false, "tickSize": 4,
                           "values": [0.025, 0.075, 0.125, 0.175, 0.225, 0.275, 0.325]}}
          }
        },
        {
          "data": {"values": [{}]},
          "mark": {"type": "rule", "color": "black", "strokeWidth": 2},
          "encoding": {"y": {"datum": 0.375, "type": "quantitative", "axis": null}}
        },
        {
          "data": {"values": [{}]},
          "mark": {"type": "rule", "color": "black", "strokeWidth": 2},
          "encoding": {
            "x": {"datum": 266, "type": "quantitative", "axis": null},
            "y": {"datum": 0, "type": "quantitative", "axis": null},
            "y2": {"datum": 0.375}
          }
        }
      ],
      "resolve": {"axis": {"x": "independent", "y": "independent"}}
    }
  ],
  "resolve": {"scale": {"color": "independent", "x": "independent", "y": "independent"}, "legend": {"color": "independent"}}
}
